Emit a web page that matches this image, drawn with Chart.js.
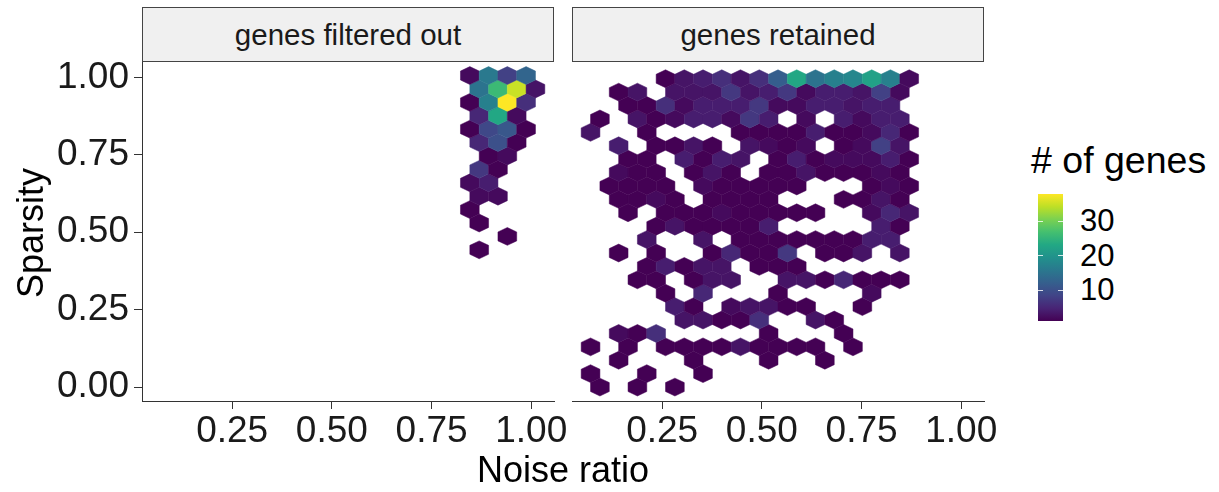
<!DOCTYPE html>
<html>
<head>
<meta charset="utf-8">
<script src="https://cdn.jsdelivr.net/npm/chart.js@4.4.0/dist/chart.umd.min.js"></script>
<style>
  body { margin: 0; background: #fff; font-family: "Liberation Sans", Arial, sans-serif; }
  #page { position: relative; width: 1219px; height: 492px; overflow: hidden; background: #fff; }
  .panel { position: absolute; top: 0; height: 492px; }
  .strip { position: absolute; top: 7px; height: 55px; width: 412px; box-sizing: border-box;
           background: #f0f0f0; border: 1px solid #444; color: #1a1a1a; font-size: 29.5px;
           display: flex; align-items: center; justify-content: center; }
  .title { position: absolute; color: #000; font-size: 36px; white-space: nowrap; }
  .legend-label { position: absolute; left: 1080px; font-size: 31px; color: #000; line-height: 1; }
</style>
</head>
<body>
<div id="page">
  <div class="panel" style="left:0;width:580px"><canvas id="filtered"></canvas></div>
  <div class="panel" style="left:560px;width:440px"><canvas id="retained"></canvas></div>
  <div class="strip" style="left:142px">genes filtered out</div>
  <div class="strip" style="left:572px">genes retained</div>
  <div class="title" id="xTitle" style="left:563px;top:470px;transform:translate(-50%,-50%)">Noise ratio</div>
  <div class="title" id="yTitle" style="left:31px;top:233px;transform:translate(-50%,-50%) rotate(-90deg)">Sparsity</div>
  <div class="title" id="legendTitle" style="left:1031px;top:139px;font-size:37.5px">&#35; of genes</div>
  <div id="colorbar" style="position:absolute;left:1038px;top:194px;width:25px;height:127px"></div>
</div>
<script>
// axis ticks
const noiseTicks = [0.25, 0.5, 0.75, 1.0];
const sparsityTicks = [0, 0.25, 0.5, 0.75, 1.0];
const countTicks = [10, 20, 30];
const countRange = [1, 38];

// hex bin size (noise ratio, sparsity)
const binX = 0.047;
const binY = 0.05;
const rowStep = binY * Math.sqrt(3) / 2;

// lowest bin row of each facet
const filteredBase = 0.40;
const retainedBase = 0.0;

// [bin row, first bin column, gene counts ...]  0 = empty bin
const filteredBins = [
  [1, 18, [1]],
  [2, 20, [1]],
  [3, 18, [1]],
  [4, 18, [1]],
  [5, 18, [2, 2]],
  [6, 18, [2, 4]],
  [7, 18, [7, 1]],
  [8, 19, [1, 2]],
  [9, 18, [5, 10, 1]],
  [10, 18, [1, 9, 11, 1]],
  [11, 18, [5, 23, 2]],
  [12, 18, [1, 17, 38, 6]],
  [13, 18, [15, 26, 35, 3]],
  [14, 18, [2, 16, 8, 13]]
];

const retainedBins = [
  [0, 2, [1, 0, 1, 0, 1]],
  [1, 1, [1, 0, 0, 1, 0, 0, 1]],
  [2, 3, [1, 0, 0, 0, 1, 0, 0, 0, 1, 0, 0, 1]],
  [3, 1, [1, 0, 1, 0, 1, 1, 1, 1, 3, 1, 1, 1, 1, 0, 1]],
  [4, 3, [2, 1, 6, 0, 0, 0, 0, 0, 1, 0, 0, 0, 1]],
  [5, 6, [3, 3, 1, 1, 6, 0, 0, 3, 1]],
  [6, 6, [4, 1, 0, 2, 3, 3, 1, 1, 0, 0, 1]],
  [7, 5, [1, 0, 5, 0, 0, 0, 1, 0, 0, 0, 0, 2]],
  [8, 4, [1, 1, 0, 1, 3, 3, 0, 0, 3, 3, 1, 5, 1, 1, 1]],
  [9, 4, [1, 4, 1, 3, 3, 0, 1, 1, 1]],
  [10, 3, [1, 0, 1, 0, 0, 1, 5, 1, 1, 7, 0, 1, 1, 3, 0, 3]],
  [11, 4, [3, 0, 0, 3, 0, 1, 1, 1, 1, 1, 1, 1, 4, 4]],
  [12, 5, [1, 3, 1, 1, 1, 1, 4, 0, 0, 0, 0, 0, 4, 1]],
  [13, 3, [1, 0, 1, 1, 1, 2, 1, 1, 1, 1, 1, 0, 0, 2, 5, 3]],
  [14, 3, [1, 1, 2, 1, 0, 1, 1, 1, 1, 0, 0, 0, 1, 1, 3, 1]],
  [15, 2, [1, 1, 1, 1, 0, 2, 1, 1, 1, 1, 1, 0, 0, 0, 1, 2, 1]],
  [16, 3, [2, 1, 1, 0, 1, 3, 1, 0, 1, 1, 3, 1, 1, 1, 2, 1]],
  [17, 3, [1, 1, 0, 4, 1, 4, 3, 0, 1, 4, 1, 2, 2, 2, 4, 1]],
  [18, 3, [4, 0, 1, 1, 3, 1, 0, 3, 2, 1, 2, 0, 1, 2, 8, 3]],
  [19, 1, [3, 0, 0, 1, 0, 0, 0, 0, 1, 1, 1, 1, 4, 1, 1, 2, 5, 1]],
  [20, 2, [1, 0, 3, 1, 2, 4, 4, 2, 7, 4, 0, 2, 0, 4, 2, 4, 4]],
  [21, 3, [1, 1, 6, 2, 4, 4, 4, 7, 2, 2, 4, 4, 3, 4, 4]],
  [22, 3, [1, 3, 0, 3, 3, 3, 7, 3, 4, 7, 2, 4, 4, 3, 8, 2]],
  [23, 5, [1, 3, 4, 6, 3, 6, 12, 23, 15, 17, 18, 22, 17, 2]]
];

const viridisStops = ['#440154', '#482475', '#414487', '#355f8d', '#2a788e', '#21918c',
                      '#22a884', '#44bf70', '#7ad151', '#bddf26', '#fde725'];

function hexToRgb(h) {
  return [1, 3, 5].map(i => parseInt(h.slice(i, i + 2), 16));
}

function viridis(count) {
  let t = (count - countRange[0]) / (countRange[1] - countRange[0]);
  t = Math.max(0, Math.min(1, t)) * (viridisStops.length - 1);
  const i = Math.min(Math.floor(t), viridisStops.length - 2);
  const f = t - i;
  const a = hexToRgb(viridisStops[i]), b = hexToRgb(viridisStops[i + 1]);
  const c = a.map((v, k) => Math.round(v + (b[k] - v) * f));
  return `rgb(${c[0]},${c[1]},${c[2]})`;
}

// bin rows -> hex centres in data units (odd rows shifted half a bin)
function binCentres(rows, base) {
  const pts = [];
  rows.forEach(([row, col0, counts]) => {
    counts.forEach((c, i) => {
      if (!c) return;
      pts.push({ x: (col0 + i + (row % 2) * 0.5) * binX, y: base + row * rowStep, c: c });
    });
  });
  return pts;
}

const hexPlugin = {
  id: 'hexbins',
  afterDatasetsDraw(chart) {
    const { ctx, scales: { x, y } } = chart;
    const r = binY / Math.sqrt(3);
    const corners = [[0, r], [binX / 2, r / 2], [binX / 2, -r / 2], [0, -r], [-binX / 2, -r / 2], [-binX / 2, r / 2]];
    ctx.save();
    chart.data.datasets[0].data.forEach(p => {
      ctx.beginPath();
      corners.forEach(([dx, dy], i) => {
        const px = x.getPixelForValue(p.x + dx);
        const py = y.getPixelForValue(p.y + dy);
        if (i) ctx.lineTo(px, py); else ctx.moveTo(px, py);
      });
      ctx.closePath();
      ctx.fillStyle = viridis(p.c);
      ctx.strokeStyle = ctx.fillStyle;
      ctx.lineWidth = 0.5;
      ctx.fill();
      ctx.stroke();
    });
    ctx.restore();
  }
};

const tickFont = { family: '"Liberation Sans", Arial, sans-serif', size: 37 };
const axisGrid = { display: true, drawOnChartArea: false, drawTicks: true, tickLength: 8, color: '#333333', lineWidth: 1 };

function makePanel(id, rows, base, showY, padding) {
  new Chart(document.getElementById(id), {
    type: 'scatter',
    data: { datasets: [{ data: binCentres(rows, base), pointRadius: 0 }] },
    plugins: [hexPlugin],
    options: {
      responsive: false,
      animation: false,
      layout: { padding: padding },
      plugins: { legend: { display: false }, tooltip: { enabled: false } },
      scales: {
        x: {
          type: 'linear', min: 0.024, max: 1.057,
          afterBuildTicks: s => { s.ticks = noiseTicks.map(v => ({ value: v })); },
          afterFit: s => { s.height = 91; },
          grid: axisGrid,
          border: { display: true, color: '#333333', width: 1 },
          ticks: { font: tickFont, color: '#1a1a1a', padding: 1, maxRotation: 0,
                   callback: v => v.toFixed(2) }
        },
        y: {
          type: 'linear', min: -0.045, max: 1.05, display: showY,
          afterBuildTicks: s => { s.ticks = sparsityTicks.map(v => ({ value: v })); },
          afterFit: s => { s.width = showY ? 142 : 0; },
          grid: axisGrid,
          border: { display: true, color: '#333333', width: 1 },
          ticks: { font: tickFont, color: '#1a1a1a', padding: 5,
                   callback: v => v.toFixed(2) }
        }
      }
    }
  });
}

function sizeCanvas(id, w) {
  const c = document.getElementById(id);
  c.width = w; c.height = 492;
  c.style.width = w + 'px'; c.style.height = '492px';
}
sizeCanvas('filtered', 580);
sizeCanvas('retained', 440);

makePanel('filtered', filteredBins, filteredBase, true, { left: 0, top: 62, right: 26, bottom: 0 });
makePanel('retained', retainedBins, retainedBase, false, { left: 12, top: 62, right: 16, bottom: 0 });

// colour bar legend
const bar = document.getElementById('colorbar');
bar.style.background = 'linear-gradient(to top,' + viridisStops.join(',') + ')';
const barTop = 194, barH = 127;
countTicks.forEach(v => {
  const yPix = barTop + barH * (1 - (v - countRange[0]) / (countRange[1] - countRange[0]));
  ['1038px', '1058px'].forEach(left => {
    const m = document.createElement('div');
    m.style.cssText = `position:absolute;left:${left};top:${yPix - 0.5}px;width:5px;height:1px;background:rgba(255,255,255,0.8)`;
    document.getElementById('page').appendChild(m);
  });
  const lab = document.createElement('div');
  lab.className = 'legend-label';
  lab.style.top = (yPix - 16) + 'px';
  lab.textContent = v;
  document.getElementById('page').appendChild(lab);
});
</script>
</body>
</html>
